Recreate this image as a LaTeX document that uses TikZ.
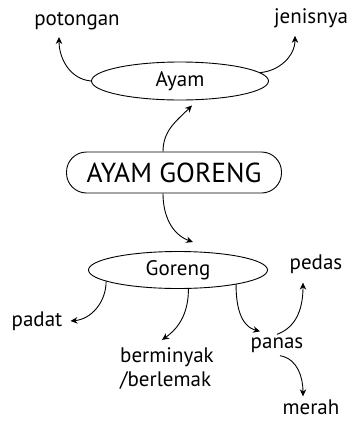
\documentclass[tikz,border=0pt]{standalone}
\usepackage{fontspec}
\setmainfont{PT Sans}
\usetikzlibrary{shapes.geometric,arrows.meta,calc}
\begin{document}
\begin{tikzpicture}[x=1pt,y=-1pt,
  lbl/.style={inner sep=0pt,font=\fontsize{21}{24}\selectfont},
  oval/.style={ellipse,draw,line width=0.9pt,inner sep=0pt,font=\fontsize{21}{24}\selectfont},
  conn/.style={line width=0.9pt,-{Stealth[length=7pt,width=6.5pt]}}]
\useasboundingbox (0,0) rectangle (352,421);
\node[oval,minimum width=177pt,minimum height=38pt] (ayam) at (180,81) {Ayam};
\node[draw,line width=0.9pt,rounded corners=20pt,minimum width=215pt,minimum height=41pt,inner sep=0pt,font=\fontsize{27.5}{32}\selectfont] (main) at (174,172.5) {AYAM GORENG};
\node[oval,minimum width=179pt,minimum height=37pt] (goreng) at (178,270) {Goreng};
\node[lbl] (potongan) at (77,21) {potongan};
\node[lbl] (jenis) at (311,18) {jenisnya};
\node[lbl] (pedas) at (316,264) {pedas};
\node[lbl] (padat) at (37,321) {padat};
\node[lbl,align=left] (bermi) at (167,369) {berminyak\\/berlemak};
\node[lbl] (panas) at (277,345) {panas};
\node[lbl] (merah) at (311,407) {merah};
\draw[conn] (ayam.west) to[out=175,in=-90] ($(potongan.south)+(-18,7)$);
\draw[conn] (ayam.6) to[out=5,in=-90] ($(jenis.south)+(-16,8)$);
\draw[conn] ($(main.north)+(-11,0)$) to[out=90,in=225] ($(ayam.south)+(12,5)$);
\draw[conn] ($(main.south)+(-11,0)$) to[out=-90,in=160] ($(goreng.north)+(15,-9)$);
\draw[conn] (goreng.189) to[out=-90,in=5] ($(padat.east)+(8,0)$);
\draw[conn] (goreng.-61) to[out=-90,in=35] ($(bermi.north)+(-5,-8)$);
\draw[conn] (goreng.-14) to[out=-90,in=165] ($(panas.north)+(-17,-6)$);
\draw[conn] ($(panas.north)+(0,-3)$) to[out=20,in=-90] ($(pedas.south)+(-13,9)$);
\draw[conn] ($(panas.south)+(3,3)$) to[out=-10,in=90] ($(merah.north)+(-8,-3)$);
\end{tikzpicture}
\end{document}
